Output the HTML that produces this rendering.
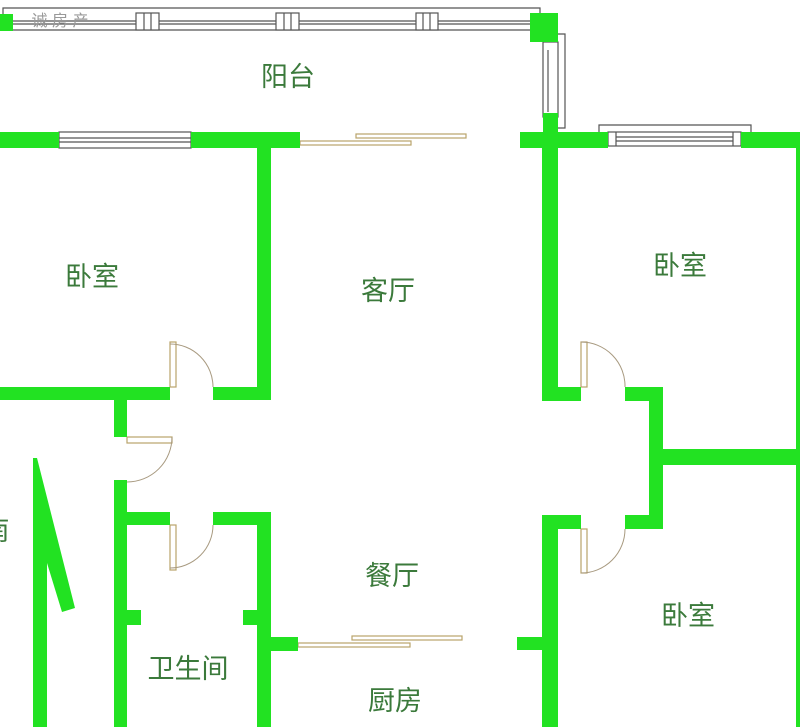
<!DOCTYPE html>
<html><head><meta charset="utf-8"><style>
html,body{margin:0;padding:0;background:#fff;}
svg{display:block}
text{font-family:"Liberation Sans","Noto Sans CJK SC",sans-serif;fill:#3b7a3b;font-size:27px;text-anchor:middle}
</style></head><body>
<svg width="800" height="727" viewBox="0 0 800 727" xmlns="http://www.w3.org/2000/svg">
<rect width="800" height="727" fill="#fff"/>
<!-- balcony outline & windows -->
<g fill="none" stroke="#555" stroke-width="1.2">
<polyline points="3,14 3,8 540,8 540,14"/>
<line x1="13" y1="21" x2="530" y2="21"/>
<line x1="13" y1="24" x2="530" y2="24"/>
<line x1="13" y1="30" x2="530" y2="30"/>
<rect x="136" y="13" width="23" height="17" fill="#fff"/>
<line x1="144" y1="13" x2="144" y2="30"/><line x1="151" y1="13" x2="151" y2="30"/>
<rect x="276" y="13" width="23" height="17" fill="#fff"/>
<line x1="284" y1="13" x2="284" y2="30"/><line x1="291" y1="13" x2="291" y2="30"/>
<rect x="416" y="13" width="22" height="17" fill="#fff"/>
<line x1="423" y1="13" x2="423" y2="30"/><line x1="430" y1="13" x2="430" y2="30"/>
<rect x="543" y="42" width="15" height="75"/>
<line x1="548" y1="50" x2="548" y2="112"/>
<polyline points="558,34 565,34 565,128 558,128"/>
<!-- left bedroom window -->
<rect x="59" y="132" width="132" height="16"/>
<line x1="59" y1="138" x2="191" y2="138"/><line x1="59" y1="142" x2="191" y2="142"/>
<!-- right bedroom window -->
<polyline points="599,132 599,125 751,125 751,132"/>
<rect x="608" y="132" width="133" height="14"/>
<line x1="616" y1="137" x2="733" y2="137"/><line x1="616" y1="141" x2="733" y2="141"/>
<line x1="616" y1="132" x2="616" y2="146"/><line x1="733" y1="132" x2="733" y2="146"/>
</g>
<!-- sliding doors (tan) -->
<g fill="#fff" stroke="#b9a36a" stroke-width="1.2">
<rect x="356" y="134" width="110" height="4"/>
<rect x="300" y="141" width="111" height="4"/>
<rect x="352" y="636" width="110" height="4"/>
<rect x="298" y="643" width="112" height="4"/>
<!-- door frames -->
<rect x="170" y="342" width="6" height="45"/>
<rect x="127" y="437" width="45" height="6"/>
<rect x="170" y="525" width="6" height="45"/>
<rect x="581" y="342" width="6" height="45"/>
<rect x="581" y="529" width="6" height="44"/>
</g>
<g fill="none" stroke="#a89a80" stroke-width="1">
<path d="M170,344 A43,43 0 0 1 213,387"/>
<path d="M172,437 A45,45 0 0 1 127,482"/>
<path d="M213,525 A43,43 0 0 1 170,568"/>
<path d="M581,342 A44,44 0 0 1 625,387"/>
<path d="M625,529 A44,44 0 0 1 581,573"/>
</g>
<!-- walls -->
<g fill="#22e222">
<rect x="0" y="14" width="13" height="17"/>
<rect x="530" y="13" width="28" height="29"/>
<rect x="543" y="113" width="15" height="19"/>
<rect x="0" y="132" width="59" height="16"/>
<rect x="191" y="132" width="109" height="16"/>
<rect x="520" y="132" width="88" height="16"/>
<rect x="741" y="132" width="59" height="16"/>
<rect x="796" y="132" width="4" height="595"/>
<!-- left bedroom -->
<rect x="257" y="132" width="14" height="268"/>
<rect x="0" y="387" width="170" height="13"/>
<rect x="213" y="387" width="58" height="13"/>
<rect x="114" y="387" width="13" height="50"/>
<rect x="114" y="480" width="13" height="247"/>
<!-- bathroom -->
<rect x="127" y="512" width="43" height="13"/>
<rect x="213" y="512" width="58" height="13"/>
<rect x="257" y="512" width="14" height="215"/>
<rect x="271" y="637" width="27" height="14"/>
<rect x="127" y="610" width="14" height="15"/>
<rect x="243" y="610" width="14" height="15"/>
<!-- far left -->
<polygon points="33,458 37,458 75,608 62,612 47,563 47,727 33,727"/>
<!-- right column -->
<rect x="542" y="132" width="16" height="269"/>
<rect x="542" y="387" width="39" height="14"/>
<rect x="625" y="387" width="38" height="14"/>
<rect x="649" y="387" width="14" height="142"/>
<rect x="663" y="449" width="137" height="16"/>
<rect x="625" y="515" width="38" height="14"/>
<rect x="542" y="515" width="39" height="14"/>
<rect x="542" y="515" width="16" height="212"/>
<rect x="517" y="637" width="25" height="13"/>
</g>
<!-- labels -->
<text x="288" y="86">阳台</text>
<text x="92" y="286">卧室</text>
<text x="388" y="300">客厅</text>
<text x="680" y="275">卧室</text>
<text x="392" y="585">餐厅</text>
<text x="688" y="625">卧室</text>
<text x="188" y="678">卫生间</text>
<text x="395" y="710">厨房</text>
<text x="-4" y="540">南</text>
<text x="60" y="26" style="font-size:16px;fill:#999">诚 房 产</text>
</svg>
</body></html>
